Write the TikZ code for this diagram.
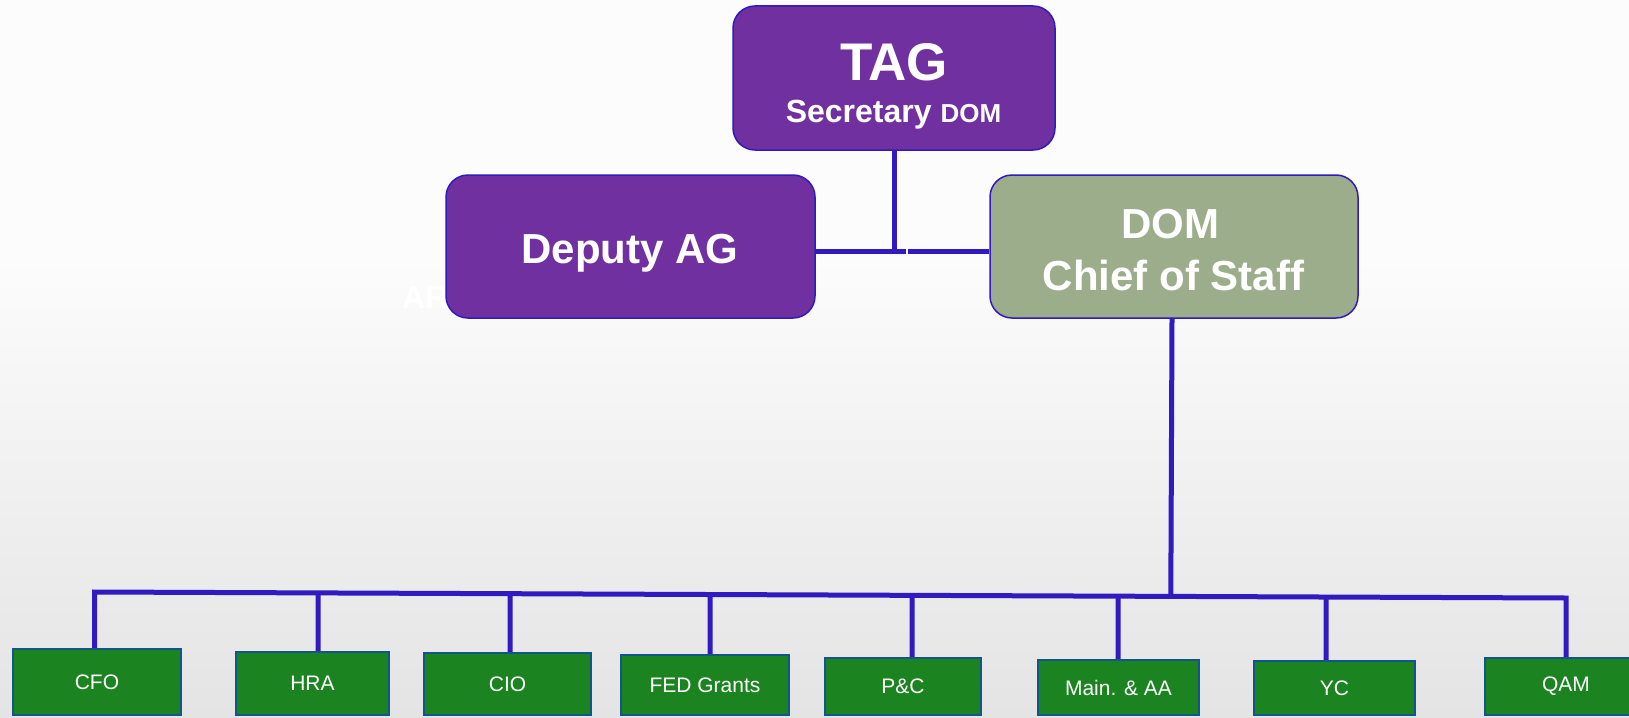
\documentclass[tikz,border=0pt]{standalone}
\usepackage{fontspec}
\setmainfont{Liberation Sans}
\usetikzlibrary{calc}
\definecolor{conn}{RGB}{48,26,192}
\definecolor{tagpurple}{RGB}{112,48,160}
\definecolor{domgreen}{RGB}{155,173,138}
\definecolor{boxgreen}{RGB}{27,132,32}
\definecolor{boxedge}{RGB}{18,84,140}
\definecolor{bgtop}{RGB}{252,252,252}
\definecolor{bgbottom}{RGB}{228,228,228}
\begin{document}
\begin{tikzpicture}[x=1pt,y=-1pt,
  link/.style={draw=conn, line width=5pt},
  bigbox/.style={rectangle, rounded corners=22pt, draw=conn, line width=1.5pt, inner sep=0pt},
  unitbox/.style={rectangle, draw=boxedge, line width=2.5pt, fill=boxgreen, text=white,
    font=\fontsize{21}{25}\selectfont, inner sep=0pt},
  bigtext/.style={anchor=base, text=white, inner sep=0pt},
]
\useasboundingbox (0,0) rectangle (1629,717);
\fill[bgtop] (0,0) rectangle (1629,260);
\shade[top color=bgtop, bottom color=bgbottom] (0,259.5) rectangle (1629,717);

% hidden text behind Deputy AG
\node[anchor=base west, text=white, inner sep=0pt, font=\bfseries\fontsize{32}{36}\selectfont] (ar) at (402,308) {AR};

% top boxes
\node[bigbox, fill=tagpurple, minimum width=322pt, minimum height=144pt] (tag) at (894,78) {};
\node[bigbox, fill=tagpurple, minimum width=369pt, minimum height=143pt] (deputy) at (630.5,246.5) {};
\node[bigbox, fill=domgreen, minimum width=368pt, minimum height=143pt] (dom) at (1174,246.5) {};

\node[bigtext, font=\bfseries\fontsize{53}{60}\selectfont] (tagt) at (894,80) {TAG};
\node[bigtext, font=\bfseries\fontsize{32}{36}\selectfont] (tags) at (893.5,122) {Secretary {\fontsize{26}{30}\selectfont DOM}};
\node[bigtext, font=\bfseries\fontsize{42}{48}\selectfont] (deputyt) at (630,263) {Deputy AG};
\node[bigtext, font=\bfseries\fontsize{42}{48}\selectfont] (domt) at (1170,238) {DOM};
\node[bigtext, font=\bfseries\fontsize{42}{48}\selectfont] (doms) at (1173.5,290) {Chief of Staff};

% unit boxes
\node[unitbox, minimum width=168pt, minimum height=66pt] (cfo)  at (97,682)    {CFO};
\node[unitbox, minimum width=153pt, minimum height=63pt] (hra)  at (312.5,683.5) {HRA};
\node[unitbox, minimum width=167pt, minimum height=62pt] (cio)  at (507.5,684)  {CIO};
\node[unitbox, minimum width=168pt, minimum height=60pt] (fed)  at (705,685)    {FED Grants};
\node[unitbox, minimum width=156pt, minimum height=57pt] (pc)   at (903,686.5)  {P\&C};
\node[unitbox, minimum width=161pt, minimum height=55pt] (main) at (1118.5,687.5) {Main. \& AA};
\node[unitbox, minimum width=161pt, minimum height=54pt] (yc)   at (1334.5,688) {YC};
\node[unitbox, minimum width=162pt, minimum height=57pt] (qam)  at (1566,686.5) {QAM};

% connectors top
\coordinate (hy) at (0,251);
\coordinate (g1) at (906,251);
\coordinate (g2) at (908,251);
\draw[link] (tag.south) -- (tag.south |- hy);
\draw[link] (deputy.east |- hy) -- (g1);
\draw[link] (g2) -- (dom.west |- hy);

% bus
\coordinate (busL) at (94.5,592);
\coordinate (busR) at (1566,598);
\draw[link] (cfo.north -| busL) -- (busL) -- (busR) -- (qam.north -| busR);

\coordinate (domB) at ([xshift=-2pt]dom.south);
\draw[link] (domB) -- ($(busL)!(domB)!(busR)$);

\coordinate (hraT) at ([xshift=5.5pt]hra.north);
\coordinate (cioT) at ([xshift=2.5pt]cio.north);
\coordinate (fedT) at ([xshift=5pt]fed.north);
\coordinate (pcT) at ([xshift=9pt]pc.north);
\coordinate (mainT) at ([xshift=-0.5pt]main.north);
\coordinate (ycT) at ([xshift=-8.5pt]yc.north);
\draw[link] (hraT) -- ($(busL)!(hraT)!(busR)$);
\draw[link] (cioT) -- ($(busL)!(cioT)!(busR)$);
\draw[link] (fedT) -- ($(busL)!(fedT)!(busR)$);
\draw[link] (pcT) -- ($(busL)!(pcT)!(busR)$);
\draw[link] (mainT) -- ($(busL)!(mainT)!(busR)$);
\draw[link] (ycT) -- ($(busL)!(ycT)!(busR)$);
\end{tikzpicture}
\end{document}
